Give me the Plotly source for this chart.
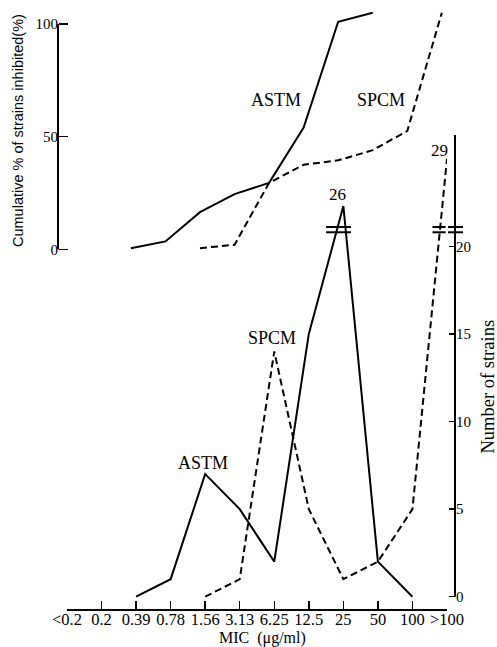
import plotly.graph_objects as go

# ---------------- data ----------------
mic_labels = ["<0.2", "0.2", "0.39", "0.78", "1.56", "3.13", "6.25", "12.5", "25", "50", "100", ">100"]

# cumulative % of strains inhibited (upper panel)
cum_astm_x = ["0.39", "0.78", "1.56", "3.13", "6.25", "12.5", "25", "50"]
cum_astm_y = [0.5, 3.5, 16.5, 24.5, 29.5, 54, 101, 105]
cum_spcm_x = ["1.56", "3.13", "6.25", "12.5", "25", "50", "100", ">100"]
cum_spcm_y = [0.5, 2, 29.5, 37.5, 39.5, 44, 52.5, 105]

# number of strains (lower panel)
num_astm_x = ["0.39", "0.78", "1.56", "3.13", "6.25", "12.5", "25", "50", "100"]
num_astm_y = [0, 1, 7, 5, 2, 15, 26, 2, 0]
num_spcm_x = ["1.56", "3.13", "6.25", "12.5", "25", "50", "100", ">100"]
num_spcm_y = [0, 1, 14, 5, 1, 2, 5, 29]

left_ticks = [0, 50, 100]
right_ticks = [0, 5, 10, 15, 20]

# ---------------- broken right axis ----------------
BREAK_AT = 20
BREAK_LO, BREAK_HI = 20.8, 21.1
AXIS_TOP = 26.35


def broken(v):
    return v if v <= BREAK_AT else 0.9 * v - 1.1


SERIF = "Liberation Serif"
SANS = "Liberation Sans"
W, H = 497, 647
ML, MR, MT, MB = 58, 42, 0, 38
PW, PH = W - ML - MR, H - MT - MB


def px(xp):
    return (xp - ML) / PW


def py(yp):
    return (H - MB - yp) / PH


DASH = "7px,4px"

fig = go.Figure()
fig.add_trace(go.Scatter(x=cum_astm_x, y=cum_astm_y, mode="lines", xaxis="x2", yaxis="y2",
                         line=dict(color="black", width=2), showlegend=False, hoverinfo="skip"))
fig.add_trace(go.Scatter(x=cum_spcm_x, y=cum_spcm_y, mode="lines", xaxis="x2", yaxis="y2",
                         line=dict(color="black", width=2, dash=DASH), showlegend=False,
                         hoverinfo="skip"))
fig.add_trace(go.Scatter(x=num_astm_x, y=[broken(v) for v in num_astm_y], mode="lines",
                         xaxis="x", yaxis="y", line=dict(color="black", width=2), showlegend=False,
                         hoverinfo="skip"))
fig.add_trace(go.Scatter(x=num_spcm_x, y=[broken(v) for v in num_spcm_y], mode="lines",
                         xaxis="x", yaxis="y", line=dict(color="black", width=2, dash=DASH),
                         showlegend=False, hoverinfo="skip"))

# bottom y (right): 0 at y=596.7 px, 17.52 px per strain
s_r = 17.52
y0_r = 596.7
yr_range = [-(H - MB - y0_r) / s_r, (y0_r - MT) / s_r]
# top y (left): 0 at 249.3 px, 2.253 px per %
s_l = 2.253
y0_l = 249.3
yl_range = [-(H - MB - y0_l) / s_l, (y0_l - MT) / s_l]

xdom = [px(67), px(447)]
n = len(mic_labels) - 1

fig.update_layout(
    width=W, height=H, autosize=False,
    margin=dict(l=ML, r=MR, t=MT, b=MB, pad=0),
    paper_bgcolor="white", plot_bgcolor="white",
    showlegend=False,
    xaxis=dict(type="category", categoryorder="array", categoryarray=mic_labels,
               range=[-0.0005, n + 0.0005], domain=xdom, anchor="y",
               showline=True, linecolor="black", linewidth=2,
               ticks="inside", ticklen=8, tickwidth=1.5, tickcolor="black",
               ticklabelstandoff=-6,
               showgrid=False, zeroline=False, automargin=False,
               tickfont=dict(family=SERIF, size=16.5, color="black")),
    xaxis2=dict(type="category", categoryorder="array", categoryarray=mic_labels,
                range=[0.15, n + 0.15], domain=xdom, overlaying="x", anchor="y2",
                visible=False),
    yaxis=dict(range=yr_range, domain=[0, 1], side="right", anchor="free", position=1,
               tickvals=right_ticks, ticks="inside", ticklen=6, tickwidth=1.5,
               tickcolor="black", showline=False, showgrid=False, zeroline=False,
               automargin=False, tickfont=dict(family=SERIF, size=15, color="black")),
    yaxis2=dict(range=yl_range, domain=[0, 1], side="left", anchor="free", position=0,
                overlaying="y", tickvals=left_ticks, ticks="inside", ticklen=9,
                tickwidth=1.5, tickcolor="black", showline=False, showgrid=False,
                zeroline=False, automargin=False,
                tickfont=dict(family=SERIF, size=15, color="black")),
)

shapes = []
# left axis line (0-100 %)
shapes.append(dict(type="line", xref="paper", yref="y2", x0=0, x1=0, y0=0, y1=left_ticks[-1],
                   line=dict(color="black", width=2)))
# right axis line
shapes.append(dict(type="line", xref="paper", yref="y", x0=1, x1=1, y0=0, y1=AXIS_TOP,
                   line=dict(color="black", width=2)))
# break marks
for lvl in (BREAK_LO, BREAK_HI):
    shapes.append(dict(type="line", xref="paper", yref="y", x0=px(448), x1=px(463), y0=lvl, y1=lvl,
                       line=dict(color="black", width=2)))
    shapes.append(dict(type="line", xref="x", yref="y", x0=8 - 0.5, x1=8 + 0.22, y0=lvl, y1=lvl,
                       line=dict(color="black", width=2)))
    shapes.append(dict(type="line", xref="x", yref="y", x0=10.58, x1=10.96, y0=lvl, y1=lvl,
                       line=dict(color="black", width=2)))
fig.update_layout(shapes=shapes)

ann = []


def add_text(t, xp, yp, size=18, family=SERIF, angle=0):
    ann.append(dict(text=t, x=px(xp), y=py(yp), xref="paper", yref="paper",
                    xanchor="center", yanchor="middle", showarrow=False, textangle=angle,
                    font=dict(family=family, size=size, color="black")))


add_text("ASTM", 275.5, 100)
add_text("SPCM", 381, 100)
add_text("SPCM", 272, 338)
add_text("ASTM", 202.5, 463)
add_text("26", 337, 194, size=17)
add_text("29", 439.5, 150, size=17)
add_text("Cumulative % of strains inhibited(%)", 18, 131, size=14.5, family=SANS, angle=-90)
add_text("Number of strains", 487, 386.5, size=18.5, angle=-90)
add_text("MIC  (μg/ml)", 262, 638, size=16)
fig.update_layout(annotations=ann)

fig.write_html(
    "out.html",
    config={"displayModeBar": False, "staticPlot": True},
    post_script="document.body.style.margin='0';document.body.style.overflow='hidden';",
)
